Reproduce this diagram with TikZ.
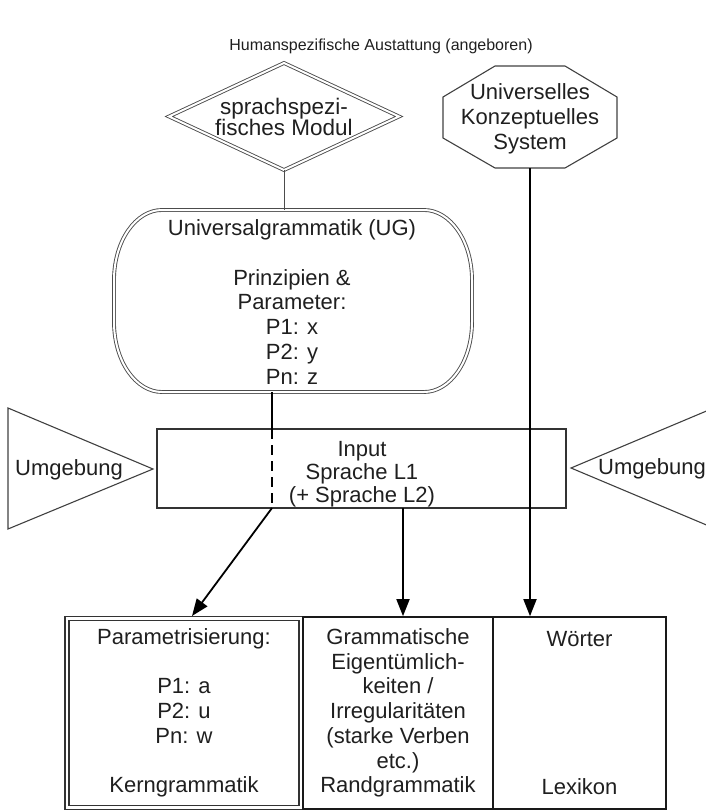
\documentclass[tikz,border=0pt]{standalone}
\usepackage{fontspec}
\setmainfont{Liberation Sans}
\usetikzlibrary{arrows.meta}
\begin{document}
\begin{tikzpicture}[x=1pt,y=-1pt,
  lbl/.style={font=\fontsize{22}{24.7}\selectfont, align=center, text=black!88, inner sep=0pt},
  outline/.style={draw=black!75, line width=1.1pt},
  dbl/.style={draw=black!70, line width=0.9pt, double=white, double distance=2pt},
  conn/.style={draw=black, line width=1.8pt},
  thinconn/.style={draw=black!70, line width=1pt},
  arr/.style={conn, -{Triangle[length=17pt,width=13pt]}},
  boxnode/.style={lbl, draw=black!90, line width=1.6pt, minimum height=192pt}]

\useasboundingbox (0,0) rectangle (706,811);

% title
\node[font=\fontsize{16}{18}\selectfont, text=black!88, inner sep=0pt] (title) at (381,46) {Humanspezifische Austattung (angeboren)};

% diamond: sprachspezifisches Modul
\draw[dbl] (284,63) -- (399,116.5) -- (284,170) -- (169,116.5) -- cycle;
\node[lbl, font=\fontsize{22.5}{21.5}\selectfont] (modul) at (284,117) {sprachspezi-\\fisches Modul};

% octagon
\draw[outline] (495,66) -- (565,66) -- (617,97) -- (617,138) -- (565,168) -- (495,168) -- (443,138) -- (443,97) -- cycle;
\node[lbl] (konz) at (530,119) {Universelles\\Konzeptuelles\\System};

% Universalgrammatik (stadium)
\draw[dbl] (162,210) -- (424,210)
  .. controls (450.5,210) and (472,241.3) .. (472,280) -- (472,322)
  .. controls (472,360.7) and (450.5,392) .. (424,392) -- (162,392)
  .. controls (135.5,392) and (114,360.7) .. (114,322) -- (114,280)
  .. controls (114,241.3) and (135.5,210) .. cycle;
\node[lbl] (ug) at (292,302) {Universalgrammatik (UG)\\[24.7pt]Prinzipien \&\\Parameter:\\P1: x\\P2: y\\Pn: z};

% Input box
\node[lbl, draw=black!80, line width=1.2pt, minimum width=409pt, minimum height=79pt] (input) at (361.5,468.5) {};
\node[lbl, font=\fontsize{22}{23}\selectfont] (inputtxt) at (362,474) {Input\\Sprache L1\\(+ Sprache L2)};

% Umgebung triangles
\draw[outline] (8,408) -- (153,469) -- (8,529) -- cycle;
\node[lbl] (umgL) at (69,470) {Umgebung};
\begin{scope}
  \clip (0,0) rectangle (706,811);
  \draw[outline] (571,468) -- (716,407) -- (716,529) -- cycle;
\end{scope}
\node[lbl] (umgR) at (652,469) {Umgebung};

% bottom boxes
\node[lbl, draw=black!80, line width=1.1pt, double=white, double distance=2.9pt, minimum width=234pt, minimum height=189pt] (kern) at (184,713) {Parametrisierung:\\[24.7pt]P1: a\\P2: u\\Pn: w\\[24.7pt]Kerngrammatik};
\node[boxnode, minimum width=190pt] (rand) at (398,713) {Grammatische\\Eigentümlich-\\keiten /\\Irregularitäten\\(starke Verben\\etc.)\\Randgrammatik};
\node[boxnode, minimum width=173pt] (lex) at (579.5,713) {Wörter\\[123.5pt]Lexikon};

% connectors
\coordinate (dmS) at (284,170);
\coordinate (ugN) at (284,210);
\coordinate (ocS) at (530,168);
\coordinate (ugS) at (272,392);
\coordinate (inN) at (272,429);
\coordinate (inS) at (272,508);
\coordinate (inS2) at (403,508);
\coordinate (kernT) at (192,616);

\draw[thinconn] (dmS) -- (ugN);
\draw[arr] (ocS) -- (ocS |- lex.north);
\draw[conn] (ugS) -- (inN);
\draw[conn, dash pattern=on 10pt off 6pt] (inN) -- (inS);
\draw[arr] (inS) -- (kernT);
\draw[arr] (inS2) -- (inS2 |- rand.north);
\end{tikzpicture}
\end{document}
